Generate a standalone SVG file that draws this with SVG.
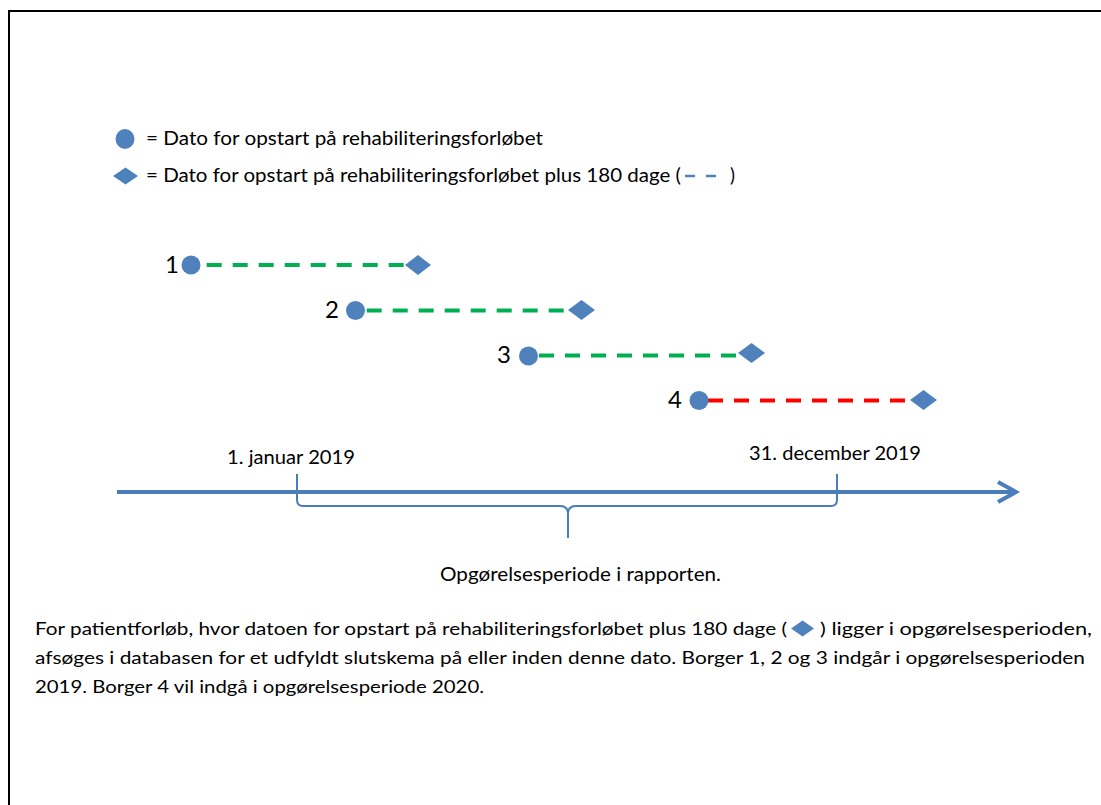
<svg xmlns="http://www.w3.org/2000/svg" width="1101" height="805" viewBox="0 0 1101 805">
<style>
text{font-family:Lato,"Liberation Sans",sans-serif;fill:#000}
.t17{font-size:18.5px}
.t16{font-size:18px}
.num{font-size:24px}
.dot{fill:#4f81bd}
.dia{fill:#4f81bd}
.dg{stroke:#00b050;stroke-width:4;stroke-dasharray:15 11;fill:none}
.dr{stroke:#ff0000;stroke-width:4;stroke-dasharray:15 11;fill:none}
.ax{stroke:#4a7ebb;stroke-width:4;fill:none}
.br{stroke:#4a7ebb;stroke-width:2;fill:none}
</style>
<rect x="0" y="0" width="1101" height="805" fill="#fff"/>
<rect x="9" y="11" width="1100" height="800" fill="none" stroke="#000" stroke-width="2"/>

<g id="legend">
  <ellipse cx="125" cy="139" rx="9.5" ry="10" class="dot"/>
  <text class="t17" x="146" y="144.5" textLength="397" lengthAdjust="spacingAndGlyphs">= Dato for opstart på rehabiliteringsforløbet</text>
  <polygon points="113,176 125.5,167.5 138,176 125.5,184.5" class="dia"/>
  <text class="t17" x="146" y="181.5" textLength="535" lengthAdjust="spacingAndGlyphs">= Dato for opstart på rehabiliteringsforløbet plus 180 dage (</text>
  <line x1="685" y1="176" x2="695" y2="176" stroke="#4f81bd" stroke-width="2.5"/>
  <line x1="706" y1="176" x2="716" y2="176" stroke="#4f81bd" stroke-width="2.5"/>
  <text class="t17" x="730" y="181.5">)</text>
</g>

<g id="connectors">
  <line class="dg" x1="206.7" y1="265" x2="404" y2="265"/>
  <line class="dg" x1="366.7" y1="310.5" x2="566" y2="310.5"/>
  <line class="dg" x1="539" y1="355.5" x2="737" y2="355.5"/>
  <line class="dr" x1="708" y1="400.5" x2="907" y2="400.5"/>
</g>

<g id="row1">
  <text class="num" x="165" y="273">1</text>
  <circle cx="191" cy="265" r="9.5" class="dot"/>
  <polygon points="405,265 418,255 431,265 418,275" class="dia"/>
</g>
<g id="row2">
  <text class="num" x="325" y="318">2</text>
  <circle cx="355.5" cy="310.5" r="9.5" class="dot"/>
  <polygon points="568,310 581.5,300 595,310 581.5,320" class="dia"/>
</g>
<g id="row3">
  <text class="num" x="497" y="363">3</text>
  <circle cx="528.5" cy="356" r="9.5" class="dot"/>
  <polygon points="738,353 751.5,343 765,353 751.5,363" class="dia"/>
</g>
<g id="row4">
  <text class="num" x="668" y="408">4</text>
  <circle cx="699" cy="400.5" r="9.5" class="dot"/>
  <polygon points="910,400 923.5,390 937,400 923.5,410" class="dia"/>
</g>

<g id="axis">
  <line class="ax" x1="117" y1="492" x2="1014" y2="492"/>
  <polyline class="ax" points="998,482 1016,492 998,502" stroke-linejoin="miter"/>
  <text class="t17" x="227" y="463.5" textLength="128" lengthAdjust="spacingAndGlyphs">1. januar 2019</text>
  <text class="t17" x="749" y="459.5" textLength="172" lengthAdjust="spacingAndGlyphs">31. december 2019</text>
</g>

<g id="bracket">
  <path class="br" d="M297,474 V500 Q297,506 303,506 H560 Q568,506 568,514 V538"/>
  <path class="br" d="M837,474 V500 Q837,506 831,506 H576 Q568,506 568,514"/>
  <text class="t17" x="440" y="580.5" textLength="281" lengthAdjust="spacingAndGlyphs">Opgørelsesperiode i rapporten.</text>
</g>

<g id="note">
  <text class="t16" x="35" y="635" textLength="752" lengthAdjust="spacingAndGlyphs">For patientforløb, hvor datoen for opstart på rehabiliteringsforløbet plus 180 dage (</text>
  <polygon points="791,628.5 802.5,620.5 814,628.5 802.5,636.5" class="dia"/>
  <text class="t16" x="820" y="635" textLength="272" lengthAdjust="spacingAndGlyphs">) ligger i opgørelsesperioden,</text>
  <text class="t16" x="35" y="664" textLength="1050" lengthAdjust="spacingAndGlyphs">afsøges i databasen for et udfyldt slutskema på eller inden denne dato. Borger 1, 2 og 3 indgår i opgørelsesperioden</text>
  <text class="t16" x="35" y="693" textLength="449" lengthAdjust="spacingAndGlyphs">2019. Borger 4 vil indgå i opgørelsesperiode 2020.</text>
</g>
</svg>
